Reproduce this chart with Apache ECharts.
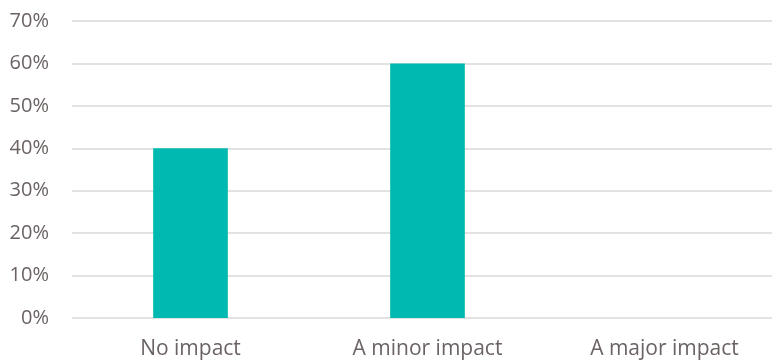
<!DOCTYPE html>
<html><head><meta charset="utf-8">
<script src="https://cdn.jsdelivr.net/npm/echarts@6/dist/echarts.min.js"></script>
<style>html,body{margin:0;padding:0;background:#fff;overflow:hidden}#c{width:783px;height:361px}</style>
</head><body><div id="c"></div>
<script>
const categories = ["No impact", "A minor impact", "A major impact"];
const values = [40, 60, 0];
const yTicks = [0, 10, 20, 30, 40, 50, 60, 70];

const chart = echarts.init(document.getElementById('c'));
chart.setOption({
  animation: false,
  grid: { left: 72, right: 0, top: 21, height: 297, containLabel: false },
  xAxis: {
    type: 'category', data: categories,
    axisLine: { show: false }, axisTick: { show: false },
    axisLabel: { color: '#6b6363', fontSize: 21, fontFamily: 'Open Sans', margin: 21 }
  },
  yAxis: {
    type: 'value', min: yTicks[0], max: yTicks[yTicks.length - 1], interval: 10,
    axisLine: { show: false }, axisTick: { show: false },
    axisLabel: { color: '#6b6363', fontSize: 20, fontFamily: 'Open Sans', margin: 23, formatter: v => v + '%' },
    splitLine: { lineStyle: { color: '#d9d9d9', width: 1.5 } }
  },
  series: [{
    type: 'bar', data: values, barWidth: '31.5%',
    itemStyle: { color: '#00BAB1' }
  }]
});
</script></body></html>
